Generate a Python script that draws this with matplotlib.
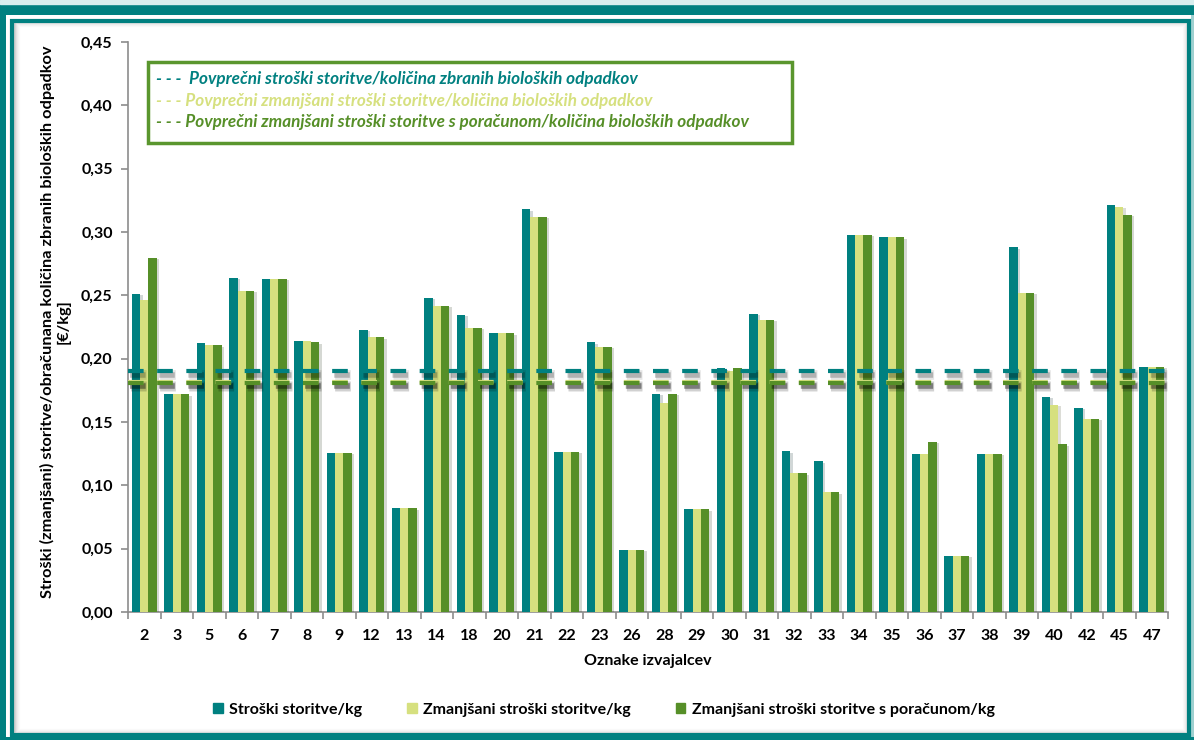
import numpy as np
import matplotlib.pyplot as plt
import matplotlib.patheffects as pe
from matplotlib.patches import Rectangle, Patch
from matplotlib.ticker import FuncFormatter, FixedLocator

plt.rcParams['font.family'] = ['Lato', 'DejaVu Sans']

# data
izvajalci = ['2', '3', '5', '6', '7', '8', '9', '12', '13', '14', '18', '20', '21', '22', '23', '26',
             '28', '29', '30', '31', '32', '33', '34', '35', '36', '37', '38', '39', '40', '42', '45', '47']
stroski = [0.251, 0.172, 0.212, 0.264, 0.263, 0.214, 0.1255, 0.223, 0.082, 0.248, 0.2345, 0.220,
           0.318, 0.1263, 0.213, 0.049, 0.1724, 0.081, 0.1925, 0.2353, 0.127, 0.119, 0.2976, 0.2958,
           0.1245, 0.0445, 0.125, 0.288, 0.170, 0.1613, 0.321, 0.1937]
zmanjsani = [0.246, 0.172, 0.2105, 0.2535, 0.263, 0.214, 0.1255, 0.217, 0.082, 0.2416, 0.2242, 0.220,
             0.3118, 0.1263, 0.2095, 0.049, 0.1647, 0.081, 0.190, 0.2305, 0.1095, 0.0945, 0.2976, 0.2958,
             0.1245, 0.0445, 0.125, 0.2521, 0.1634, 0.1524, 0.3197, 0.1937]
s_poracunom = [0.2795, 0.172, 0.2105, 0.2535, 0.263, 0.213, 0.1255, 0.217, 0.082, 0.2416, 0.2242, 0.220,
               0.3118, 0.1263, 0.2095, 0.049, 0.1724, 0.081, 0.1925, 0.2305, 0.1095, 0.0945, 0.2976, 0.2958,
               0.1342, 0.0445, 0.125, 0.2521, 0.1324, 0.1524, 0.3134, 0.1937]
povp_stroski = 0.190
povp_zmanjsani = 0.1815
povp_poracun = 0.181

teal = '#008080'
light = '#d6e07f'
green = '#568f28'

W, H = 1194, 740
fig = plt.figure(figsize=(W / 100, H / 100), dpi=100)
fig.patch.set_facecolor(teal)


def fx(px):
    return px / W


def fy(py):
    return 1 - py / H


# frame
fig.add_artist(Rectangle((0, fy(4)), 1, 4 / H, transform=fig.transFigure, color='#d8eeee', zorder=0))
fig.add_artist(Rectangle((fx(6), fy(737)), fx(1186), (737 - 15) / H, transform=fig.transFigure,
                         facecolor='white', edgecolor='none', zorder=0))
fig.add_artist(Rectangle((fx(1191), fy(737)), fx(3), (737 - 15) / H, transform=fig.transFigure,
                         facecolor='#9fd0d0', edgecolor='none', zorder=0))
for i, a in enumerate([0.18, 0.12, 0.08, 0.05, 0.03, 0.015]):
    d = 14 + i
    fig.add_artist(Rectangle((fx(d), fy(734 - i)), fx(1188 - i - d), (734 - i - 21 - i) / H,
                             transform=fig.transFigure, facecolor='none', edgecolor='black',
                             lw=1.0, alpha=a, zorder=1))
fig.add_artist(Rectangle((fx(12), fy(735)), fx(1177), (735 - 21) / H, transform=fig.transFigure,
                         facecolor='none', edgecolor=teal, lw=3, zorder=2))

ax = fig.add_axes([fx(128), fy(612), fx(1168 - 128), (612 - 42) / H])
ax.set_facecolor('none')

x = np.arange(len(izvajalci))
w = 0.255
shadow = [pe.SimplePatchShadow(offset=(2, -1), alpha=0.18), pe.Normal()]
b1 = ax.bar(x - w, stroski, w, color=teal, zorder=3)
b2 = ax.bar(x, zmanjsani, w, color=light, zorder=3)
b3 = ax.bar(x + w, s_poracunom, w, color=green, zorder=3)
for bars in (b1, b2, b3):
    for b in bars:
        b.set_path_effects(shadow)

lshadow = [pe.SimpleLineShadow(offset=(2, -3), shadow_color='black', alpha=0.10, linewidth=7),
           pe.SimpleLineShadow(offset=(1.5, -2.5), shadow_color='black', alpha=0.22, linewidth=4),
           pe.Normal()]
for val, col in [(povp_stroski, teal), (povp_zmanjsani, light), (povp_poracun, green)]:
    ax.axhline(val, color=col, lw=3, ls=(0, (3.75, 3.25)), zorder=4, path_effects=lshadow)

ax.set_xlim(-0.5, len(izvajalci) - 0.5)
ax.set_ylim(0, 0.45)
ax.set_yticks(np.arange(0, 0.451, 0.05))
ax.yaxis.set_major_formatter(FuncFormatter(lambda v, p: f'{v:.2f}'.replace('.', ',')))
ax.set_xticks(x)
ax.set_xticklabels(izvajalci)
ax.xaxis.set_minor_locator(FixedLocator(np.arange(-0.5, len(izvajalci), 1)))
ax.tick_params(axis='x', which='major', length=0, pad=12)
ax.tick_params(axis='x', which='minor', length=5, color='#8c8c8c', width=1.2)
ax.tick_params(axis='y', length=5, color='#8c8c8c', width=1.2, pad=6)
for lab in ax.get_xticklabels() + ax.get_yticklabels():
    lab.set_fontweight('bold')
    lab.set_fontsize(11.5)
for s in ['top', 'right']:
    ax.spines[s].set_visible(False)
for s in ['left', 'bottom']:
    ax.spines[s].set_color('#8c8c8c')
    ax.spines[s].set_linewidth(1.2)

ax.set_xlabel('Oznake izvajalcev', fontweight='bold', fontsize=11.5, labelpad=8)

fig.text(fx(55), fy(322), 'Stroški (zmanjšani) storitve/obračunana količina zbranih bioloških odpadkov\n[€/kg]',
         rotation=90, ha='center', va='center', multialignment='center', fontweight='bold', fontsize=11.8,
         linespacing=1.1)

# top legend box for average lines
fig.add_artist(Rectangle((fx(148), fy(143)), fx(792 - 148), (143 - 62) / H, transform=fig.transFigure,
                         facecolor='white', edgecolor='#5a962e', lw=2.5, zorder=5))
avg_texts = [('- - -  Povprečni stroški storitve/količina zbranih bioloških odpadkov', teal, 79),
             ('- - - Povprečni zmanjšani stroški storitve/količina bioloških odpadkov', light, 101),
             ('- - - Povprečni zmanjšani stroški storitve s poračunom/količina bioloških odpadkov', green, 122)]
for txt, col, py in avg_texts:
    fig.text(fx(156), fy(py), txt, color=col, fontsize=12.3, fontweight='bold', fontstyle='italic',
             va='center', ha='left', zorder=6)

handles = [Patch(color=teal, label='Stroški storitve/kg'),
           Patch(color=light, label='Zmanjšani stroški storitve/kg'),
           Patch(color=green, label='Zmanjšani stroški storitve s poračunom/kg')]
fig.legend(handles=handles, loc='center', bbox_to_anchor=(fx(604), fy(710)), ncol=3, frameon=False,
           handlelength=0.6, handleheight=0.6, handletextpad=0.4, columnspacing=2.8,
           prop={'weight': 'bold', 'size': 11.5})

fig.savefig('out.png', dpi=100, facecolor=fig.get_facecolor())
